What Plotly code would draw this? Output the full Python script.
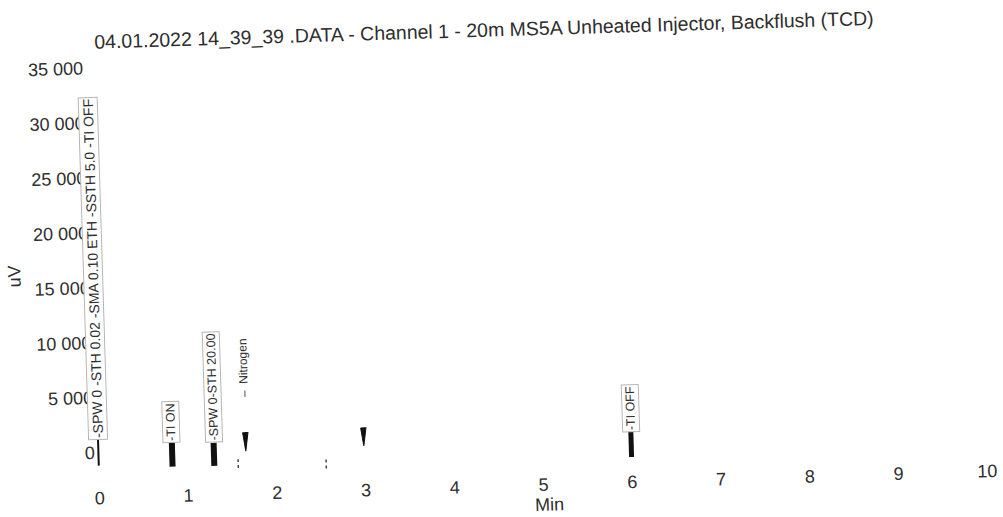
import plotly.graph_objects as go

# ---------------- data ----------------
x_ticks = [0, 1, 2, 3, 4, 5, 6, 7, 8, 9, 10]
y_ticks = [0, 5000, 10000, 15000, 20000, 25000, 30000, 35000]

# timed events (min) with their printed labels and marker extents (uV)
event_times = [0.0, 0.83, 1.30, 6.00]
event_labels = ["-SPW 0 -STH 0.02 -SMA 0.10 ETH -SSTH 5.0 -TI OFF",
                "-TI ON",
                "-SPW 0-STH 20.00",
                "-TI OFF"]
event_low = [-1200, -1500, -1550, -1900]
event_high = [1150, 700, 550, 400]

# detected peaks (min, uV)
peak_names = ["Nitrogen", ""]
peak_times = [1.66, 2.99]
peak_top = [1400, 1500]
peak_bottom = [-300, -150]

# baseline tick marks (min, uV)
mark_times = [1.57, 2.56]
mark_low = [-1800, -2100]
mark_high = [-1000, -1000]

title_text = "04.01.2022 14_39_39 .DATA - Channel 1 - 20m MS5A Unheated Injector, Backflush (TCD)"

# ---------------- styles ----------------
FONT = "Liberation Sans, Arial, sans-serif"
INK = "#2e2e2e"
event_widths = [2, 6, 6, 5]
event_font_sizes = [14, 12.5, 12.5, 12.5]
PEAK_HALF = 0.03

fig = go.Figure()

for t, lo, hi, w in zip(event_times, event_low, event_high, event_widths):
    fig.add_trace(go.Scatter(x=[t, t], y=[lo, hi], mode="lines",
                             line=dict(color="#111111", width=w),
                             showlegend=False, hoverinfo="skip"))

for t, top, bot in zip(peak_times, peak_top, peak_bottom):
    fig.add_trace(go.Scatter(x=[t - PEAK_HALF, t + PEAK_HALF, t, t - PEAK_HALF],
                             y=[top, top, bot, top], mode="lines",
                             fill="toself", fillcolor="#111111",
                             line=dict(color="#111111", width=1),
                             showlegend=False, hoverinfo="skip"))

for t, lo, hi in zip(mark_times, mark_low, mark_high):
    fig.add_trace(go.Scatter(x=[t, t], y=[lo, hi], mode="lines",
                             line=dict(color="#444444", width=1.5, dash="dot"),
                             showlegend=False, hoverinfo="skip"))

annotations = []
for t, lab, hi, fs in zip(event_times, event_labels, event_high, event_font_sizes):
    annotations.append(dict(x=t, y=hi, xref="x", yref="y", text=lab,
                            textangle=-90, showarrow=False,
                            xanchor="center", yanchor="bottom",
                            font=dict(family=FONT, size=fs, color=INK),
                            bgcolor="white", bordercolor="#b5b5b5",
                            borderwidth=1, borderpad=1))
for name, t, top in zip(peak_names, peak_times, peak_top):
    if name:
        annotations.append(dict(x=t, y=top + 3000, xref="x", yref="y",
                                text="\u2013  " + name, textangle=-90,
                                showarrow=False, xanchor="center",
                                yanchor="bottom",
                                font=dict(family=FONT, size=12, color=INK)))

fig.update_layout(
    width=1003, height=517,
    margin=dict(l=90.3, r=8.7, t=50, b=43.5, autoexpand=False),
    paper_bgcolor="white", plot_bgcolor="white",
    separators=". ",
    font=dict(family=FONT, size=18, color=INK),
    title=dict(text=title_text, x=0.4895, xref="container", xanchor="center",
               y=1 - 29.5 / 517, yref="container", yanchor="middle",
               font=dict(family=FONT, size=19.5, color=INK)),
    xaxis=dict(range=[-0.03, 10.15], tickvals=x_ticks,
               showgrid=False, zeroline=False, showline=False, ticks="",
               tickfont=dict(size=18, color=INK),
               title=dict(text="Min", standoff=2, font=dict(size=18, color=INK))),
    yaxis=dict(range=[-3000, 35500], tickvals=y_ticks, tickformat=",d",
               showgrid=False, zeroline=False, showline=False, ticks="",
               tickfont=dict(size=18, color=INK),
               title=dict(text="uV", standoff=8, font=dict(size=18, color=INK))),
    annotations=annotations,
    hovermode=False,
)

post = ("document.body.style.margin='0';"
        "var g=document.getElementById('{plot_id}');"
        "g.style.transformOrigin='50% 50%';"
        "g.style.transform='rotate(-1.75deg)';")

fig.write_html("out.html", post_script=post)
